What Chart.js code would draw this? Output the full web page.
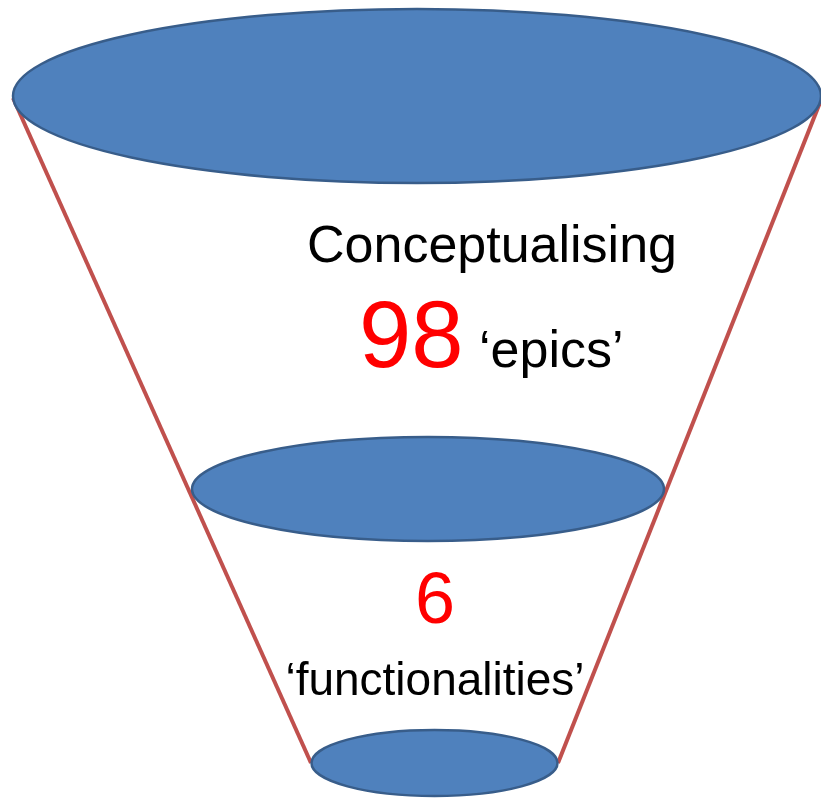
<!DOCTYPE html>
<html>
<head>
<meta charset="utf-8">
<script src="https://cdn.jsdelivr.net/npm/chart.js@4"></script>
<style>
  html, body { margin: 0; padding: 0; background: #fff; }
  canvas { display: block; }
</style>
</head>
<body>
<canvas id="funil" width="821" height="798"></canvas>
<script>
// dados do funil (unidades do diagrama)
const stageTitles = ['Conceptualising', ''];
const stageCounts = [98, 6];
const stageUnits = ['\u2018epics\u2019', '\u2018functionalities\u2019'];

// aros do funil: centro e semi-eixos
const rimCenterX = [417, 428, 434.5];
const rimCenterY = [96, 489, 763];
const rimHalfWidth = [404, 236, 123];
const rimHalfHeight = [87, 52, 33];

// paredes do funil (do aro de cima ao aro de baixo)
const leftWall = [{ x: 13, y: 98 }, { x: 311, y: 763 }];
const rightWall = [{ x: 821, y: 100 }, { x: 558, y: 763 }];

const FONTE = '"Liberation Sans", Arial, sans-serif';

// desenha os aros e os textos por cima das paredes
const funilPlugin = {
    id: 'funil',
    afterDatasetsDraw(chart) {
        const ctx = chart.ctx;
        const xs = chart.scales.x;
        const ys = chart.scales.y;

        ctx.save();
        for (let i = 0; i < rimCenterX.length; i++) {
            const cx = xs.getPixelForValue(rimCenterX[i]);
            const cy = ys.getPixelForValue(rimCenterY[i]);
            const rx = Math.abs(xs.getPixelForValue(rimCenterX[i] + rimHalfWidth[i]) - cx);
            const ry = Math.abs(ys.getPixelForValue(rimCenterY[i] + rimHalfHeight[i]) - cy);
            ctx.beginPath();
            ctx.ellipse(cx, cy, rx, ry, 0, 0, Math.PI * 2);
            ctx.fillStyle = '#4F81BD';
            ctx.fill();
            ctx.lineWidth = 2.5;
            ctx.strokeStyle = '#385D8A';
            ctx.stroke();
        }

        ctx.textBaseline = 'alphabetic';

        // etapa 1
        ctx.fillStyle = '#000';
        ctx.textAlign = 'center';
        ctx.font = '52px ' + FONTE;
        ctx.fillText(stageTitles[0], 492, 262);

        ctx.textAlign = 'left';
        ctx.fillStyle = '#FF0000';
        ctx.font = '94px ' + FONTE;
        ctx.fillText(String(stageCounts[0]), 359, 367);
        ctx.fillStyle = '#000';
        ctx.font = '52px ' + FONTE;
        ctx.fillText(stageUnits[0], 479, 367);

        // etapa 2
        ctx.textAlign = 'center';
        ctx.fillStyle = '#FF0000';
        ctx.font = '72px ' + FONTE;
        ctx.fillText(String(stageCounts[1]), 435, 623);
        ctx.fillStyle = '#000';
        ctx.font = '46px ' + FONTE;
        ctx.fillText(stageUnits[1], 435, 695);

        ctx.restore();
    }
};

const ctxFunil = document.getElementById('funil').getContext('2d');
const chartFunil = new Chart(ctxFunil, {
    type: 'scatter',
    data: {
        datasets: [{
            data: leftWall,
            showLine: true,
            borderColor: '#C0504D',
            borderWidth: 4,
            pointRadius: 0,
            clip: false
        }, {
            data: rightWall,
            showLine: true,
            borderColor: '#C0504D',
            borderWidth: 4,
            pointRadius: 0,
            clip: false
        }]
    },
    options: {
        responsive: false,
        animation: false,
        events: [],
        layout: { padding: 0 },
        plugins: {
            legend: { display: false },
            tooltip: { enabled: false }
        },
        scales: {
            x: { type: 'linear', min: 0, max: 821, display: false },
            y: { type: 'linear', min: 0, max: 798, reverse: true, display: false }
        }
    },
    plugins: [funilPlugin]
});
</script>
</body>
</html>
